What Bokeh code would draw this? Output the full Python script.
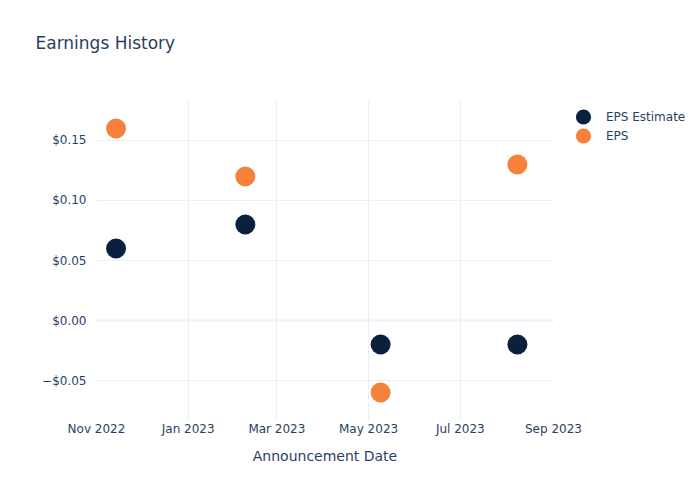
from datetime import datetime
from bokeh.plotting import figure
from bokeh.models import (ColumnDataSource, MonthsTicker, DatetimeTickFormatter, Title,
                          CustomJSTickFormatter, Legend, LegendItem, Span, Range1d, SingleIntervalTicker)
from bokeh.embed import file_html
from bokeh.resources import INLINE

dates = ["2022-11-14", "2023-02-08", "2023-05-09", "2023-08-08"]
eps_estimate = [0.06, 0.08, -0.02, -0.02]
eps_actual = [0.16, 0.12, -0.06, 0.13]
series_names = ["EPS Estimate", "EPS"]
colors = ["#0b1f3f", "#f6813a"]
title_text = "Earnings History"

x = [datetime.strptime(d, "%Y-%m-%d") for d in dates]
src = ColumnDataSource(dict(x=x, est=eps_estimate, act=eps_actual))

FONT = "DejaVu Sans"
TXT = "#2a3f5f"
GRID = "#ebf0f8"

p = figure(frame_width=457, frame_height=320, x_axis_type="datetime", output_backend="svg",
           toolbar_location=None,
           x_range=Range1d(datetime(2022, 11, 1), datetime(2023, 9, 1)),
           y_range=Range1d(-0.0833, 0.1833))
p.min_border_left = 96
p.min_border_right = 147
p.min_border_top = 100
p.min_border_bottom = 80
p.outline_line_color = None
p.background_fill_color = "white"
p.border_fill_color = "white"

# real title (outer), spacer title added later sits next to the frame
p.title.text = title_text
p.title.text_font = FONT
p.title.text_font_size = "17px"
p.title.text_font_style = "normal"
p.title.text_color = TXT
p.title.offset = 35 - 96
p.title.standoff = 0
spacer = Title(text=" ", text_font=FONT, text_font_size="17px", standoff=26)
p.add_layout(spacer, "above")

p.xaxis.ticker = MonthsTicker(months=[0, 2, 4, 6, 8, 10])
p.xaxis.formatter = DatetimeTickFormatter(months="%b %Y", days="%b %Y")
p.yaxis.ticker = SingleIntervalTicker(interval=0.05)
p.yaxis.formatter = CustomJSTickFormatter(code="""
var v = Math.round(tick*100)/100;
return (v < 0 ? '\u2212' : '') + '$' + Math.abs(v).toFixed(2);
""")
for ax in [p.xaxis, p.yaxis]:
    ax.axis_line_color = None
    ax.major_tick_line_color = None
    ax.minor_tick_line_color = None
    ax.major_tick_out = 0
    ax.major_tick_in = 0
    ax.minor_tick_out = 0
    ax.major_label_text_font = FONT
    ax.major_label_text_font_size = "12px"
    ax.major_label_text_color = TXT
    ax.axis_label_text_font = FONT
    ax.axis_label_text_color = TXT
    ax.axis_label_text_font_style = "normal"
    ax.axis_label_text_font_size = "14px"
p.xaxis.axis_label = "Announcement Date"
p.xaxis.major_label_standoff = 1
p.xaxis.axis_label_standoff = 9
p.yaxis.major_label_standoff = 10

p.xgrid.grid_line_color = GRID
p.ygrid.grid_line_color = GRID
p.add_layout(Span(location=0, dimension="width", line_color=GRID, line_width=2))

r1 = p.ellipse("x", "est", source=src, width=20, height=20, width_units="screen",
               height_units="screen", fill_color=colors[0], line_color=None)
r2 = p.ellipse("x", "act", source=src, width=20, height=20, width_units="screen",
               height_units="screen", fill_color=colors[1], line_color=None)

legend = Legend(items=[LegendItem(label=series_names[0], renderers=[r1]),
                       LegendItem(label=series_names[1], renderers=[r2])],
                location="top_left")
legend.label_text_font = FONT
legend.label_text_font_size = "12px"
legend.label_text_color = TXT
legend.border_line_color = None
legend.background_fill_alpha = 0
legend.glyph_width = 46
legend.glyph_height = 19
legend.label_height = 19
legend.spacing = 0
legend.padding = 0
legend.margin = 7
legend.label_standoff = 0
p.add_layout(legend, "right")

open("out.html", "w").write(file_html(p, INLINE))
